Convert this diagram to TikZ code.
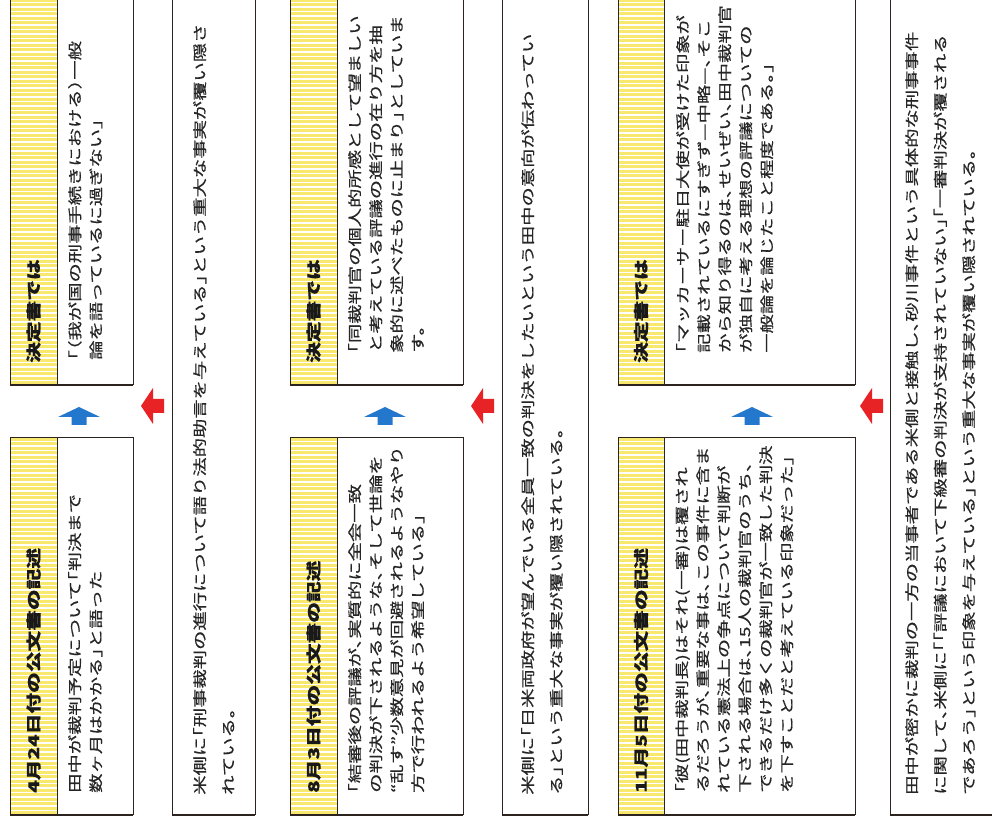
\documentclass[tikz,border=0pt]{standalone}
\usepackage{fontspec}
\newfontfamily\jpfont[FakeStretch=1.38,FakeBold=0.5,RawFeature={+halt}]{Noto Sans CJK JP}
\usetikzlibrary{positioning}

\definecolor{framebrown}{RGB}{45,35,30}
\definecolor{bandyellow}{RGB}{248,233,110}
\definecolor{arrowblue}{RGB}{35,120,205}
\definecolor{arrowred}{RGB}{232,35,38}

\tikzset{
  boxline/.style={draw=framebrown, line width=1pt},
  bottomedge/.style={draw=framebrown, line width=2.4pt},
  stripe/.style={white, line width=1.5pt},
  headtext/.style={rotate=90, anchor=west, inner sep=0pt, text=black!90,
    font=\jpfont\bfseries\fontsize{15}{18}\selectfont},
  shorttext/.style={rotate=90, anchor=north west, inner sep=0pt, align=left, text=black!85,
    font=\jpfont\fontsize{14}{21}\selectfont},
  longtext/.style={shorttext, font=\jpfont\fontsize{14}{28.5}\selectfont},
  upblue/.style={fill=arrowblue},
  leftred/.style={fill=arrowred}
}

\begin{document}
\begin{tikzpicture}[x=1pt,y=1pt]
  \useasboundingbox (0,0) rectangle (992,826);
  \clip (0,0) rectangle (992,826);
  \fill[white] (0,0) rectangle (992,826);
  % striped header bands
  \foreach \xa/\xb/\ya/\yb in {10/57/441/830, 10/57/11/388, 290/337/441/830, 290/337/11/388, 618/664/441/830, 618/664/11/388}{
    \fill[bandyellow] (\xa,\ya) rectangle (\xb,\yb);
    \pgfmathsetmacro\ystep{\ya+4.5}
    \foreach \yy in {\ya,\ystep,...,\yb} \draw[stripe] (\xa,\yy) -- (\xb,\yy);
  }
  % frames
  \draw[boxline] (10,441) rectangle (133,830);
  \draw[boxline] (57,441) -- (57,830);
  \draw[bottomedge] (10,441) -- (133,441);
  \draw[boxline] (10,11) rectangle (133,388);
  \draw[boxline] (57,11) -- (57,388);
  \draw[bottomedge] (10,11) -- (133,11);
  \draw[boxline] (172,11) rectangle (255,830);
  \draw[bottomedge] (172,11) -- (255,11);
  \draw[boxline] (290,441) rectangle (463,830);
  \draw[boxline] (337,441) -- (337,830);
  \draw[bottomedge] (290,441) -- (463,441);
  \draw[boxline] (290,11) rectangle (463,388);
  \draw[boxline] (337,11) -- (337,388);
  \draw[bottomedge] (290,11) -- (463,11);
  \draw[boxline] (502,11) rectangle (588,830);
  \draw[bottomedge] (502,11) -- (588,11);
  \draw[boxline] (618,441) rectangle (855,830);
  \draw[boxline] (664,441) -- (664,830);
  \draw[bottomedge] (618,441) -- (855,441);
  \draw[boxline] (618,11) rectangle (855,388);
  \draw[boxline] (664,11) -- (664,388);
  \draw[bottomedge] (618,11) -- (855,11);
  \draw[boxline] (890,11) rectangle (1000,830);
  \draw[bottomedge] (890,11) -- (1000,11);

  \node[headtext] (ruleA) at (33.5,463) {決定書では};
  \node[shorttext] (ruleAtext) at (68,466) {「（我が国の刑事手続きにおける）一般\\論を語っているに過ぎない」};
  \node[headtext] (docA) at (33.5,33) {4月24日付の公文書の記述};
  \node[shorttext] (docAtext) at (68,33) {田中が裁判予定について「判決まで\\数ヶ月はかかる」と語った};
  \node[longtext] (hiddenA) at (193,31) {米側に「刑事裁判の進行について語り法的助言を与えている」という重大な事実が覆い隠さ\\れている。};

  \node[headtext] (ruleB) at (313.5,463) {決定書では};
  \node[shorttext] (ruleBtext) at (348,473) {「同裁判官の個人的所感として望ましい\\と考えている評議の進行の在り方を抽\\象的に述べたものに止まり」としていま\\す。};
  \node[headtext] (docB) at (313.5,33) {8月3日付の公文書の記述};
  \node[shorttext] (docBtext) at (348,33) {「結審後の評議が、実質的に全会一致\\の判決が下されるような、そして世論を\\“乱す”少数意見が回避されるようなやり\\方で行われるよう希望している」};
  \node[longtext] (hiddenB) at (521,31) {米側に「日米両政府が望んでいる全員一致の判決をしたいという田中の意向が伝わってい\\る」という重大な事実が覆い隠されている。};

  \node[headtext] (ruleC) at (641,463) {決定書では};
  \node[shorttext] (ruleCtext) at (676,473) {「マッカーサー駐日大使が受けた印象が\\記載されているにすぎず—中略—、そこ\\から知り得るのは、せいぜい、田中裁判官\\が独自に考える理想の評議についての\\一般論を論じたこと程度である。」};
  \node[headtext] (docC) at (641,33) {11月5日付の公文書の記述};
  \node[shorttext] (docCtext) at (675,33) {「彼(田中裁判長)はそれ(一審)は覆され\\るだろうが、重要な事は、この事件に含ま\\れている憲法上の争点について判断が\\下される場合は、15人の裁判官のうち、\\できるだけ多くの裁判官が一致した判決\\を下すことだと考えている印象だった」};
  \node[longtext] (hiddenC) at (905,31) {田中が密かに裁判の一方の当事者である米側と接触し、砂川事件という具体的な刑事事件\\に関して、米側に「「評議において下級審の判決が支持されていない」「一審判決が覆される\\であろう」という印象を与えている」という重大な事実が覆い隠されている。};

  % arrows
  \coordinate (upA) at (79,419);
  \coordinate (upB) at (385,419);
  \coordinate (upC) at (752,419);
  \foreach \c in {upA,upB,upC}
    \fill[upblue] (\c) -- ++(21,-10) -- ++(-13.5,0) -- ++(0,-8) -- ++(-15,0) -- ++(0,8) -- ++(-13.5,0) -- cycle;
  \coordinate (backA) at (141,420);
  \coordinate (backB) at (471,420);
  \coordinate (backC) at (860,420);
  \foreach \c in {backA,backB,backC}
    \fill[leftred] (\c) -- ++(12,18) -- ++(0,-11) -- ++(11,0) -- ++(0,-14) -- ++(-11,0) -- ++(0,-11) -- cycle;
\end{tikzpicture}
\end{document}
